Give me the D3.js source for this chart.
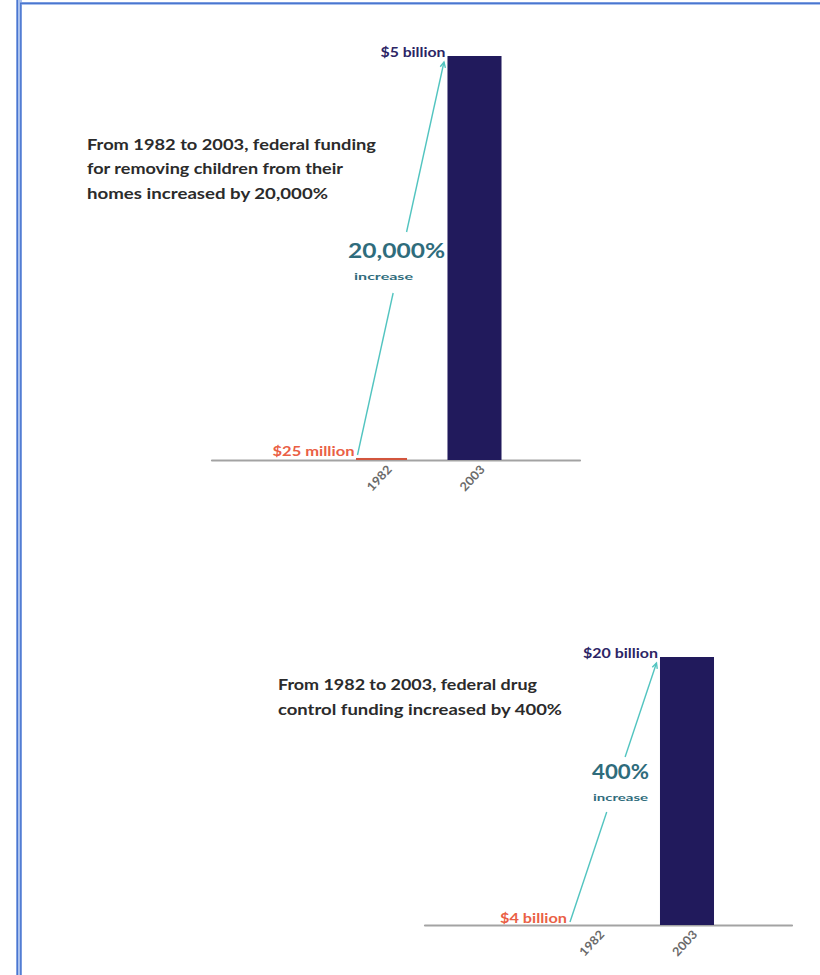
<!DOCTYPE html>
<html>
<head>
<meta charset="utf-8">
<script src="https://cdn.jsdelivr.net/npm/d3@7"></script>
<style>
  html, body { margin: 0; padding: 0; background: #ffffff; }
  svg { display: block; }
  text { font-family: Lato, "Open Sans", sans-serif; font-weight: 700; }
</style>
</head>
<body>
<svg id="chart" width="820" height="975"></svg>
<script>
// Years compared in both panels
const years = ["1982", "2003"];

// Federal funding for removing children from their homes (millions of dollars)
const removalFunding = [25, 5000];
const removalLabels = ["$25 million", "$5 billion"];
const removalIncrease = "20,000%";
const removalNote = [
  "From 1982 to 2003, federal funding",
  "for removing children from their",
  "homes increased by 20,000%"
];

// Federal drug control funding (billions of dollars)
const drugFunding = [4, 20];
const drugLabels = ["$4 billion", "$20 billion"];
const drugIncrease = "400%";
const drugNote = [
  "From 1982 to 2003, federal drug",
  "control funding increased by 400%"
];

const svg = d3.select("#chart");

// Page frame (double blue rule on the left and top)
const frame = svg.append("g");
frame.append("rect").attr("x", 16).attr("y", 0).attr("width", 6).attr("height", 975).attr("fill", "#a9c1ee");
frame.append("rect").attr("x", 16).attr("y", 2).attr("width", 804).attr("height", 3).attr("fill", "#a9c1ee");
frame.append("line").attr("x1", 17.3).attr("x2", 17.3).attr("y1", 0).attr("y2", 975).attr("stroke", "#4a76cf").attr("stroke-width", 1.4);
frame.append("line").attr("x1", 20.8).attr("x2", 20.8).attr("y1", 3).attr("y2", 975).attr("stroke", "#4a76cf").attr("stroke-width", 1.4);
frame.append("line").attr("x1", 20).attr("x2", 820).attr("y1", 3.2).attr("y2", 3.2).attr("stroke", "#4a76cf").attr("stroke-width", 1.6);

const COLORS = {
  before: "#d2553d",
  after: "#211a5c",
  beforeLabel: "#ea5f45",
  afterLabel: "#2c2565",
  arrow: "#52c4c0",
  increase: "#2f6c7c",
  note: "#2b2b2b",
  tick: "#6a6a6a",
  axis: "#a3a3a3"
};

function addText(g, str, x, y, opts) {
  const t = g.append("text")
    .attr("x", x).attr("y", y)
    .attr("fill", opts.fill)
    .attr("font-size", opts.size)
    .attr("text-anchor", opts.anchor || "start")
    .text(str);
  if (opts.weight) t.attr("font-weight", opts.weight);
  if (opts.width) t.attr("textLength", opts.width).attr("lengthAdjust", "spacingAndGlyphs");
  return t;
}

function drawPanel(p) {
  const g = svg.append("g");

  const x = d3.scaleBand().domain(years).range(p.xRange).paddingInner(0.419).paddingOuter(0.5);
  const y = d3.scaleLinear().domain(p.yDomain).range([p.baseY, p.topY]);

  // Baseline
  g.append("line")
    .attr("x1", p.axisX[0]).attr("x2", p.axisX[1])
    .attr("y1", p.baseY + 0.5).attr("y2", p.baseY + 0.5)
    .attr("stroke", COLORS.axis).attr("stroke-width", 2.2).attr("stroke-linecap", "round");

  // Bars
  g.selectAll("rect.bar").data(years).join("rect")
    .attr("class", "bar")
    .attr("x", (d, i) => x(d) + (i === 0 ? 1.5 : 0))
    .attr("width", (d, i) => x.bandwidth() - (i === 0 ? 3 : 0))
    .attr("y", (d, i) => y(p.values[i]))
    .attr("height", (d, i) => p.baseY - y(p.values[i]))
    .attr("fill", (d, i) => i === 0 ? COLORS.before : COLORS.after);

  // Year ticks, slanted under each bar
  years.forEach(d => {
    const cx = x(d) + x.bandwidth() / 2;
    g.append("text")
      .attr("transform", `translate(${cx + 11},${p.baseY + 10}) rotate(-47)`)
      .attr("text-anchor", "end")
      .attr("fill", COLORS.tick)
      .attr("font-size", 12)
      .attr("font-weight", 400)
      .attr("textLength", 30).attr("lengthAdjust", "spacingAndGlyphs")
      .text(d);
  });

  // Value labels
  const x0 = x(years[0]), x1 = x(years[1]);
  const y0 = y(p.values[0]), y1 = y(p.values[1]);
  addText(g, p.labels[0], x0, y0 - 2, { fill: COLORS.beforeLabel, size: 13, anchor: "end", width: p.labelWidths[0] });
  addText(g, p.labels[1], x1 - 2, y1 + 1, { fill: COLORS.afterLabel, size: 13, anchor: "end", width: p.labelWidths[1] });

  // Arrow from the earlier value up to the later one, broken around the callout
  const start = [x0 + 3, y0 - 3];
  const end = [x1 - 3.5, y1 + 6];
  const atY = yy => [start[0] + (end[0] - start[0]) * (yy - start[1]) / (end[1] - start[1]), yy];
  const segs = [[end, atY(p.gap[0])], [atY(p.gap[1]), start]];
  segs.forEach(([a, b]) => {
    g.append("line")
      .attr("x1", a[0]).attr("y1", a[1]).attr("x2", b[0]).attr("y2", b[1])
      .attr("stroke", COLORS.arrow).attr("stroke-width", 1.4);
  });
  const ang = Math.atan2(end[1] - start[1], end[0] - start[0]);
  const head = 6;
  const pts = [-0.45, 0.45].map(a => [end[0] - head * Math.cos(ang + a), end[1] - head * Math.sin(ang + a)]);
  g.append("path")
    .attr("d", `M${pts[0][0]},${pts[0][1]} L${end[0]},${end[1]} L${pts[1][0]},${pts[1][1]}`)
    .attr("fill", "none").attr("stroke", COLORS.arrow).attr("stroke-width", 1.4);

  // Increase callout
  addText(g, p.increase, p.incX, p.incY, { fill: COLORS.increase, size: 20, width: p.incWidth });
  addText(g, "increase", p.incX + p.subDx, p.incY + 22, { fill: COLORS.increase, size: 10, weight: 900, width: p.subWidth });

  // Note
  p.note.forEach((line, i) => {
    addText(g, line, p.noteX, p.noteY + i * 24.5, { fill: COLORS.note, size: 16, width: p.noteWidths[i] });
  });
}

drawPanel({
  values: removalFunding,
  labels: removalLabels,
  labelWidths: [82, 65],
  yDomain: [0, 5000],
  xRange: [308, 548],
  axisX: [212, 580],
  baseY: 460,
  topY: 56,
  increase: removalIncrease,
  incX: 348, incY: 258, incWidth: 97, subDx: 6, subWidth: 59,
  gap: [232, 293],
  note: removalNote,
  noteX: 87, noteY: 149.5,
  noteWidths: [289, 256, 241]
});

drawPanel({
  values: drugFunding,
  labels: drugLabels,
  labelWidths: [67, 75],
  yDomain: [4, 20],
  xRange: [520.5, 760.5],
  axisX: [425, 792],
  baseY: 925,
  topY: 657,
  increase: drugIncrease,
  incX: 592, incY: 779, incWidth: 57, subDx: 1, subWidth: 55,
  gap: [757, 812],
  note: drugNote,
  noteX: 278, noteY: 690,
  noteWidths: [259, 284]
});
</script>
</body>
</html>
